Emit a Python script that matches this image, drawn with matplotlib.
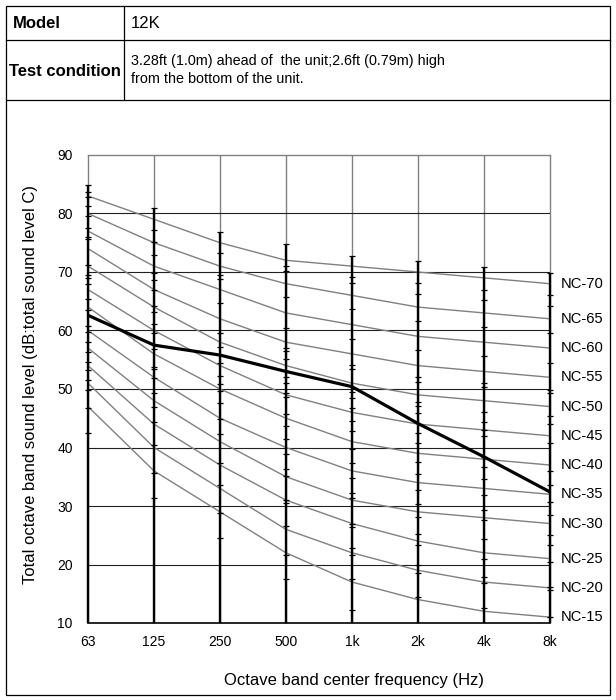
import matplotlib
matplotlib.use("Agg")
import matplotlib.pyplot as plt
from matplotlib.patches import Rectangle
from matplotlib.lines import Line2D

plt.rcParams['font.family'] = ['Liberation Sans', 'DejaVu Sans']

# ---------------- data ----------------
freq_labels = ["63", "125", "250", "500", "1k", "2k", "4k", "8k"]

nc_names = ["NC-70", "NC-65", "NC-60", "NC-55", "NC-50", "NC-45",
            "NC-40", "NC-35", "NC-30", "NC-25", "NC-20", "NC-15"]
nc70 = [83, 79, 75, 72, 71, 70, 69, 68]
nc65 = [80, 75, 71, 68, 66, 64, 63, 62]
nc60 = [77, 71, 67, 63, 61, 59, 58, 57]
nc55 = [74, 67, 62, 58, 56, 54, 53, 52]
nc50 = [71, 64, 58, 54, 51, 49, 48, 47]
nc45 = [67, 60, 54, 49, 46, 44, 43, 42]
nc40 = [64, 56, 50, 45, 41, 39, 38, 37]
nc35 = [60, 52, 45, 40, 36, 34, 33, 32]
nc30 = [57, 48, 41, 35, 31, 29, 28, 27]
nc25 = [54, 44, 37, 31, 27, 24, 22, 21]
nc20 = [51, 40, 33, 26, 22, 19, 17, 16]
nc15 = [47, 36, 29, 22, 17, 14, 12, 11]
nc_curves = [nc70, nc65, nc60, nc55, nc50, nc45, nc40, nc35, nc30, nc25, nc20, nc15]

measured = [62.6, 57.5, 55.8, 53.0, 50.4, 44.1, 38.4, 32.4]

# scale marks on each octave band line
marks_63 = [84.9, 83.7, 82.9, 81.2, 79.5, 77.6, 75.9, 75.6, 71.2, 69.5, 68.9, 67.9,
            65.3, 63.5, 60.7, 59.8, 58.1, 56.4, 54.7, 53.2, 51.5, 49.8, 46.7, 42.4]
marks_125 = [80.9, 77.2, 75.1, 72.9, 69.8, 68.6, 66.9, 64.2, 63.2, 61.1, 59.5, 56.8,
             53.8, 53.4, 51.8, 49.4, 47.0, 44.4, 40.5, 35.6, 31.4]
marks_250 = [76.9, 73.2, 69.5, 68.8, 64.7, 59.5, 57.2, 54.4, 52.2, 50.8, 49.7, 47.6,
             44.8, 42.3, 37.4, 33.6, 28.8, 24.5]
marks_500 = [74.8, 71.1, 70.2, 65.7, 60.5, 57.0, 56.5, 55.2, 53.0, 52.1, 51.0, 49.3,
             48.7, 45.8, 43.6, 41.5, 38.9, 36.3, 35.1, 31.0, 30.5, 26.6, 21.6, 17.5]
marks_1k = [72.8, 69.1, 68.2, 63.6, 58.6, 54.1, 53.4, 49.5, 48.4, 46.7, 44.6, 42.9,
            39.7, 37.4, 34.8, 32.3, 31.3, 27.0, 26.4, 22.8, 21.6, 17.5, 12.3]
marks_2k = [71.8, 68.2, 66.2, 61.6, 56.7, 52.0, 51.2, 47.8, 47.1, 45.9, 42.4, 40.7,
            37.6, 35.5, 32.7, 30.3, 28.2, 25.2, 23.3, 19.9, 18.5, 14.5]
marks_4k = [70.9, 67.0, 65.2, 60.6, 55.6, 51.0, 50.4, 46.1, 44.4, 43.0, 42.0, 38.4,
            36.7, 34.7, 31.9, 29.4, 27.6, 24.3, 20.9, 17.9, 16.8, 12.5]
marks_8k = [69.9, 66.1, 64.2, 59.6, 54.5, 49.8, 49.4, 45.3, 44.1, 40.7, 35.9, 33.6,
            30.7, 28.5, 25.0, 23.3, 20.5, 16.2, 15.6, 11.1]
band_marks = [marks_63, marks_125, marks_250, marks_500,
              marks_1k, marks_2k, marks_4k, marks_8k]

y_ticks = [10, 20, 30, 40, 50, 60, 70, 80, 90]

model_name = "12K"
test_condition = ["3.28ft (1.0m) ahead of  the unit;2.6ft (0.79m) high",
                  "from the bottom of the unit."]

# ---------------- figure ----------------
W, H = 616, 700
fig = plt.figure(figsize=(W / 100, H / 100), dpi=100)


def fx(px):
    return px / W


def fy(py):
    return 1 - py / H


# table frame
lw_frame = 0.9
fig.patches.append(Rectangle((fx(6), fy(695)), fx(610) - fx(6), fy(6) - fy(695),
                             transform=fig.transFigure, fill=False,
                             edgecolor='black', linewidth=lw_frame))
for ypix in (40, 100):
    fig.lines.append(Line2D([fx(6), fx(610)], [fy(ypix), fy(ypix)],
                            transform=fig.transFigure, color='black', lw=lw_frame))
fig.lines.append(Line2D([fx(124), fx(124)], [fy(6), fy(100)],
                        transform=fig.transFigure, color='black', lw=lw_frame))

fig.text(fx(13), fy(24), "Model", fontsize=12, fontweight='bold', va='center', ha='left')
fig.text(fx(131), fy(24), model_name, fontsize=12, va='center', ha='left')
fig.text(fx(9), fy(71), "Test condition", fontsize=12, fontweight='bold',
         va='center', ha='left')
fig.text(fx(131), fy(61), test_condition[0], fontsize=10.4, va='center', ha='left')
fig.text(fx(131), fy(79), test_condition[1], fontsize=10.4, va='center', ha='left')

# chart axes
ax = fig.add_axes([fx(88), fy(623), fx(550) - fx(88), fy(155) - fy(623)])
xpos = list(range(len(freq_labels)))
ax.set_xlim(0, len(freq_labels) - 1)
ax.set_ylim(10, 90)

for s in ('left', 'right'):
    ax.spines[s].set_visible(False)
ax.spines['top'].set_color('#808080')
ax.spines['top'].set_linewidth(1.0)
ax.spines['bottom'].set_color('black')
ax.spines['bottom'].set_linewidth(1.2)

# gridlines
ax.vlines(xpos, 10, 90, color='#808080', lw=1.0, zorder=1, clip_on=False)
ax.hlines(y_ticks[1:-1], 0, len(freq_labels) - 1, color='#202020', lw=0.8, zorder=1)

# NC curves
for name, vals in zip(nc_names, nc_curves):
    ax.plot(xpos, vals, color='#808080', lw=1.0, zorder=2)
    ax.annotate(name, xy=(xpos[-1], vals[-1]), xytext=(7.5, 0),
                textcoords='offset points', va='center', ha='left', fontsize=10.6,
                annotation_clip=False)

# octave band lines with scale marks
for i, marks in enumerate(band_marks):
    ax.vlines(i, 10, max(marks), color='black', lw=1.7, zorder=3, clip_on=False)
    ax.plot([i] * len(marks), marks, linestyle='none', marker='_', markersize=5,
            markeredgewidth=0.9, color='black', zorder=3, clip_on=False)

# measured spectrum
ax.plot(xpos, measured, color='black', lw=2.3, zorder=5, solid_joinstyle='round')

ax.set_xticks(xpos)
ax.set_xticklabels(freq_labels)
ax.set_yticks(y_ticks)
ax.tick_params(axis='both', length=0, labelsize=10)
ax.tick_params(axis='x', pad=9)
ax.tick_params(axis='y', pad=11)

fig.text(fx(31), fy(385), "Total octave band sound level (dB:total sound level C)",
         rotation=90, va='center', ha='center', fontsize=12)
fig.text(fx(354), fy(680), "Octave band center frequency (Hz)",
         va='center', ha='center', fontsize=12)

fig.savefig("out.png", dpi=100)
